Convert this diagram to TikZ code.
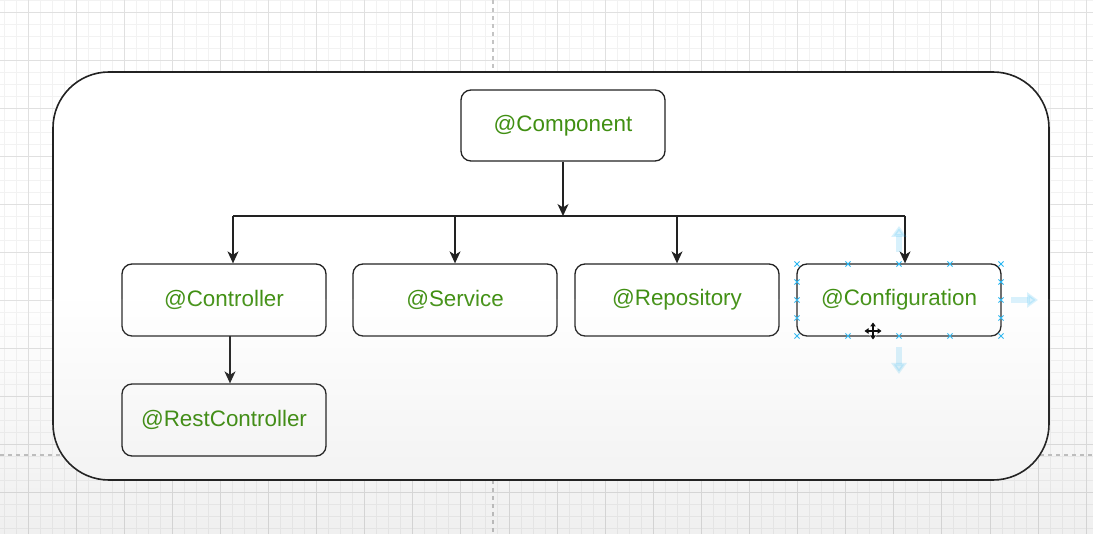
\documentclass[tikz,border=0pt]{standalone}
\usepackage{fontspec}
\setmainfont{Liberation Sans}
\usetikzlibrary{arrows.meta}
\definecolor{txtgreen}{RGB}{64,143,18}
\definecolor{boxline}{RGB}{34,34,34}
\definecolor{handleblue}{RGB}{41,182,242}
\definecolor{gridminor}{RGB}{242,242,242}
\definecolor{gridmajor}{RGB}{224,224,224}
\definecolor{pagedash}{RGB}{196,196,196}
\begin{document}
\begin{tikzpicture}[x=1pt,y=-1pt,
  box/.style={draw=boxline, line width=1.3pt, rounded corners=10pt, fill=white,
    minimum width=204pt, minimum height=72pt, inner sep=0pt, text=txtgreen,
    font=\fontsize{22.4}{26}\selectfont},
  frame/.style={draw=boxline, line width=1.6pt, rounded corners=56pt,
    fill=white, minimum width=996pt, minimum height=408pt},
  arr/.style={draw=boxline, line width=1.3pt, -{Stealth[length=12pt,width=11pt,inset=3.5pt]}},
  bus/.style={draw=boxline, line width=1.3pt},
  gmin/.style={draw=gridminor, line width=0.9pt},
  gmaj/.style={draw=gridmajor, line width=0.9pt},
  pageline/.style={draw=pagedash, line width=1.2pt, dash pattern=on 4pt off 4pt},
  handle/.style={draw=handleblue, line width=0.9pt},
  hoverarrow/.style={draw=handleblue, opacity=0.18, line width=6pt, -{Triangle[length=11pt,width=15pt]}},
  cursorhalo/.style={draw=white, line width=3.6pt, {Triangle[length=5pt,width=7pt]}-{Triangle[length=5pt,width=7pt]}},
  cursorline/.style={draw=black, line width=1.3pt, {Triangle[length=4pt,width=5.5pt]}-{Triangle[length=4pt,width=5.5pt]}}
]
\useasboundingbox (0,0) rectangle (1093,534);
\fill[white] (0,0) rectangle (1093,534);
% grid
\foreach \k in {-2,...,88} \draw[gmin] ({28+12.025*\k},0) -- ++(0,534);
\foreach \k in {0,...,44} \draw[gmin] (0,{12*\k}) -- ++(1093,0);
\foreach \k in {0,...,22} \draw[gmaj] ({28+48.1*\k},0) -- ++(0,534);
\foreach \k in {0,...,10} \draw[gmaj] (0,{12+48*\k}) -- ++(1093,0);
% page break lines
\draw[pageline] (493,0) -- (493,534);
\draw[pageline] (0,455) -- (1093,455);
% outer frame
\node[frame] (frame) at (551,276) {};
% boxes
\node[box, minimum height=71pt] (comp) at (563,125.5) {@Component};
\node[box] (ctrl) at (224,300) {@Controller};
\node[box] (serv) at (455,300) {@Service};
\node[box] (repo) at (677,300) {@Repository};
\node[box] (conf) at (899,300) {@Configuration};
\node[box] (rest) at (224,420) {@RestController};
% connectors
\coordinate (busL) at (233,216);
\coordinate (busM) at (563,216);
\coordinate (busS) at (455,216);
\coordinate (busP) at (677,216);
\coordinate (busR) at (905,216);
\draw[bus] (busL) -- (busR);
\draw[arr] (comp.south) -- (busM);
\draw[arr] (busL) -- (busL |- ctrl.north);
\draw[arr] (busS) -- (busS |- serv.north);
\draw[arr] (busP) -- (busP |- repo.north);
\draw[arr] (busR) -- (busR |- conf.north);
\coordinate (ctrlOut) at (230,336);
\draw[arr] (ctrlOut) -- (ctrlOut |- rest.north);
% hover arrows around selection
\draw[hoverarrow] (899,252) -- (899,226);
\draw[hoverarrow] (1011,300) -- (1038,300);
\draw[hoverarrow] (899,347) -- (899,374);
% selection handles
\foreach \x in {797,848,899,950,1001} {
  \draw[handle] (\x,264) +(-2.6,-2.6) -- +(2.6,2.6) +(-2.6,2.6) -- +(2.6,-2.6);
  \draw[handle] (\x,336) +(-2.6,-2.6) -- +(2.6,2.6) +(-2.6,2.6) -- +(2.6,-2.6);
}
\foreach \y in {282,300,318} {
  \draw[handle] (797,\y) +(-2.6,-2.6) -- +(2.6,2.6) +(-2.6,2.6) -- +(2.6,-2.6);
  \draw[handle] (1001,\y) +(-2.6,-2.6) -- +(2.6,2.6) +(-2.6,2.6) -- +(2.6,-2.6);
}
% move cursor
\draw[cursorhalo] (864,331) -- (882,331);
\draw[cursorhalo] (873,322) -- (873,340);
\draw[cursorline] (864.5,331) -- (881.5,331);
\draw[cursorline] (873,322.5) -- (873,339.5);
% bottom shading of screenshot
\shade[top color=white, bottom color=black, opacity=0.06] (0,300) rectangle (1093,534);
\end{tikzpicture}
\end{document}
